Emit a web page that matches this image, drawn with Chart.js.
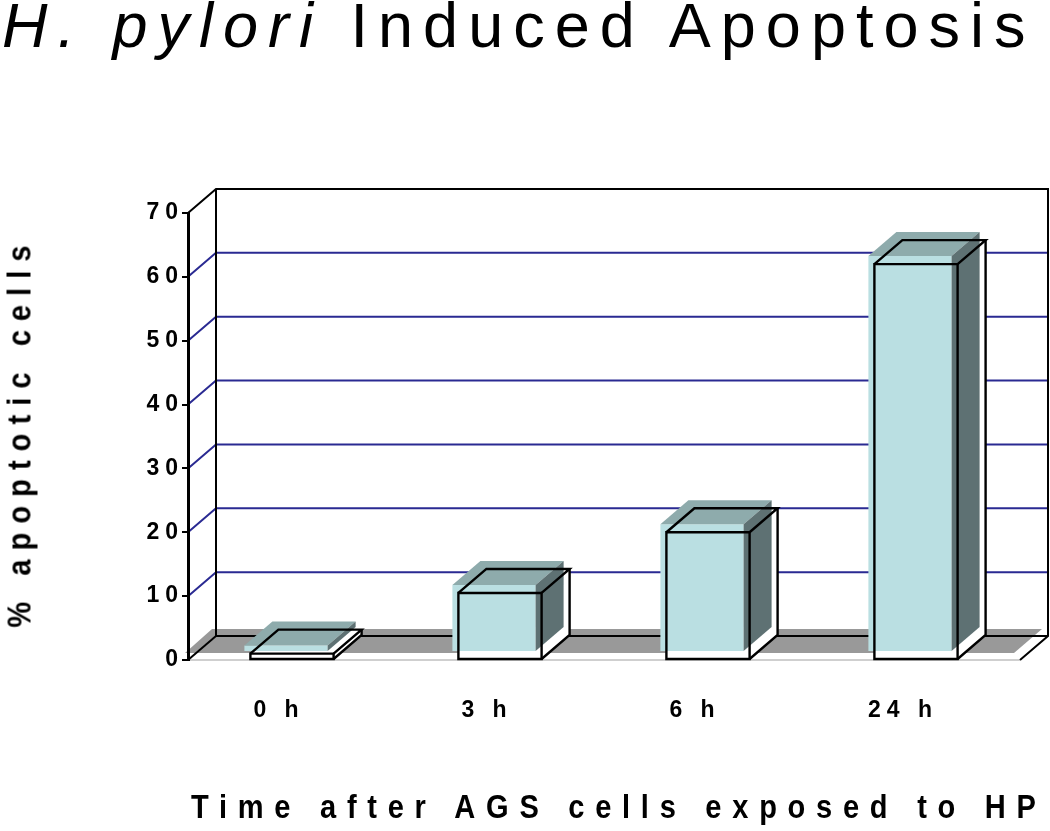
<!DOCTYPE html>
<html><head><meta charset="utf-8">
<script src="https://cdn.jsdelivr.net/npm/chart.js@4.4.0/dist/chart.umd.min.js"></script>
<style>
html,body{margin:0;padding:0;background:#fff;}
#wrap{position:relative;width:1050px;height:831px;overflow:hidden;background:#fff;}
canvas{position:absolute;left:0;top:0;}
.t{position:absolute;white-space:nowrap;font-family:"Liberation Sans",Arial,sans-serif;color:#000;}
#title{left:2px;top:-6px;font-size:63px;line-height:63px;letter-spacing:10px;}
#xt{left:191px;top:790px;font-size:33px;line-height:33px;font-weight:bold;letter-spacing:12.2px;transform:scaleX(0.88);transform-origin:0 0;}
#yt{left:19px;top:432px;font-size:33px;line-height:33px;font-weight:bold;letter-spacing:10.3px;transform:translate(-50%,-50%) rotate(-90deg) scaleX(0.88);}
</style></head>
<body><div id="wrap"><canvas id="c" width="1050" height="831"></canvas>
<div class="t" id="title"><i>H. pylori</i> Induced Apoptosis</div>
<div class="t" id="yt">% apoptotic cells</div>
<div class="t" id="xt">Time after AGS cells exposed to HP</div>
</div>
<script>
const categories = ['0 h', '3 h', '6 h', '24 h'];
const apoptoticPct = [1, 10.5, 20, 62];
const yMin = 0, yMax = 70, yStep = 10;

const FONT = '"Liberation Sans", Arial, sans-serif';
const DX = 28, DY = -24;      // depth offset of 3D box
const FX = -6, FY = -8;       // fill misregistration offset
const COL = {front:'#BADFE2', top:'#8EABAC', side:'#5E7173', floor:'#999999', grid:'#2A2A92'};

function poly(ctx, pts){
  ctx.beginPath();
  ctx.moveTo(pts[0][0], pts[0][1]);
  for (let i=1;i<pts.length;i++) ctx.lineTo(pts[i][0], pts[i][1]);
  ctx.closePath();
}
function line(ctx, pts){
  ctx.beginPath();
  ctx.moveTo(pts[0][0], pts[0][1]);
  for (let i=1;i<pts.length;i++) ctx.lineTo(pts[i][0], pts[i][1]);
  ctx.stroke();
}

const threeD = {
  id:'threeD',
  beforeDraw(chart){
    const ctx = chart.ctx, a = chart.chartArea, y = chart.scales.y;
    const y0 = y.getPixelForValue(yMin), yT = y.getPixelForValue(yMax);
    ctx.save();
    ctx.letterSpacing = '0px';
    // floor fill
    ctx.fillStyle = COL.floor;
    poly(ctx, [[a.left-3, y0-7],[a.right-6, y0-7],[a.right+DX-6, y0+DY-7],[a.left+DX-4, y0+DY-7]]);
    ctx.fill();
    // front floor edge
    ctx.strokeStyle = '#cfcfcf'; ctx.lineWidth = 2;
    line(ctx, [[a.left, y0],[a.right, y0]]);
    // gridlines
    ctx.strokeStyle = COL.grid; ctx.lineWidth = 2;
    for (let v = yMin + yStep; v < yMax; v += yStep){
      const p = y.getPixelForValue(v);
      line(ctx, [[a.left, p],[a.left+DX, p+DY],[a.right+DX, p+DY]]);
    }
    // wall borders
    ctx.strokeStyle = '#000'; ctx.lineWidth = 2;
    line(ctx, [[a.left, yT],[a.left+DX, yT+DY],[a.right+DX, yT+DY],[a.right+DX, y0+DY],[a.right, y0]]);
    line(ctx, [[a.left+DX, yT+DY],[a.left+DX, y0+DY],[a.right+DX, y0+DY]]);
    line(ctx, [[a.left, y0],[a.left+DX, y0+DY]]);
    ctx.restore();
    ctx.letterSpacing = '6px';
  },
  afterDatasetsDraw(chart){
    const ctx = chart.ctx;
    const meta = chart.getDatasetMeta(0);
    ctx.save();
    ctx.letterSpacing = '0px';
    meta.data.forEach(bar => {
      const p = bar.getProps(['x','y','base','width'], true);
      const L = p.x - p.width/2, R = p.x + p.width/2, T = p.y, B = p.base;
      // white silhouette of the outline box
      ctx.fillStyle = '#fff';
      poly(ctx, [[L,B],[L,T],[L+DX,T+DY],[R+DX,T+DY],[R+DX,B+DY],[R,B]]);
      ctx.fill();
      // offset fills
      const l = L+FX, r = R+FX, t = T+FY, b = B+FY;
      ctx.fillStyle = COL.front;
      poly(ctx, [[l,b],[l,t],[r,t],[r,b]]); ctx.fill();
      ctx.fillStyle = COL.top;
      poly(ctx, [[l,t],[l+DX,t+DY],[r+DX,t+DY],[r,t]]); ctx.fill();
      ctx.fillStyle = COL.side;
      poly(ctx, [[r,t],[r+DX,t+DY],[r+DX,b+DY],[r,b]]); ctx.fill();
      // outline
      ctx.strokeStyle = '#000'; ctx.lineWidth = 2.4; ctx.lineJoin = 'miter';
      poly(ctx, [[L,B],[L,T],[R,T],[R,B]]); ctx.stroke();
      line(ctx, [[L,T],[L+DX,T+DY],[R+DX,T+DY],[R,T]]);
      line(ctx, [[R+DX,T+DY],[R+DX,B+DY],[R,B]]);
    });
    ctx.restore();
  },
  afterDraw(chart){ chart.ctx.letterSpacing = '0px'; }
};

new Chart(document.getElementById('c').getContext('2d'), {
  type:'bar',
  data:{
    labels: categories,
    datasets:[{
      label:'% apoptotic cells',
      data: apoptoticPct,
      backgroundColor:'rgba(0,0,0,0)',
      borderWidth:0,
      barPercentage:0.4,
      categoryPercentage:1
    }]
  },
  options:{
    responsive:false,
    animation:false,
    devicePixelRatio:1,
    layout:{padding:{left:0, right:30, top:213, bottom:111}},
    plugins:{legend:{display:false}, tooltip:{enabled:false}, title:{display:false}},
    scales:{
      x:{
        grid:{display:false, drawTicks:false},
        border:{display:false},
        ticks:{font:{family:FONT, size:23, weight:'bold'}, color:'#000', padding:37, labelOffset:-13, maxRotation:0, autoSkip:false},
        afterFit(s){ s.height = 60; }
      },
      y:{
        min:yMin, max:yMax,
        ticks:{stepSize:yStep, font:{family:FONT, size:23, weight:'bold'}, color:'#000', padding:-2},
        grid:{drawOnChartArea:false, drawTicks:true, tickLength:6, color:'#000', lineWidth:2},
        border:{display:true, color:'#000', width:3},
        afterFit(s){ s.width = 188; }
      }
    }
  },
  plugins:[threeD]
});
</script>
</body></html>
